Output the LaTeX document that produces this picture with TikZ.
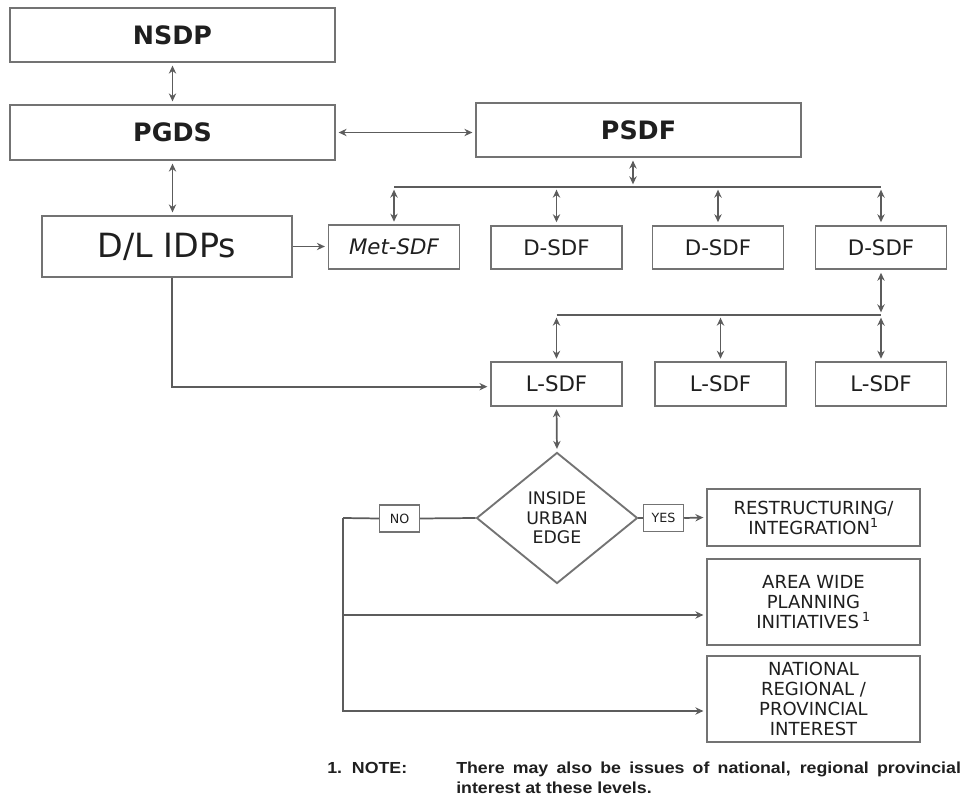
\documentclass[tikz,border=0pt]{standalone}
\usepackage{fontspec}
\usepackage{graphicx}
\setmainfont{DejaVu Sans}
\newfontfamily\notefont{Liberation Sans}
\usetikzlibrary{arrows.meta,shapes.geometric}
\definecolor{boxline}{gray}{0.45}
\definecolor{conline}{gray}{0.36}
\definecolor{txt}{gray}{0.12}
\tikzset{
  box/.style={draw=boxline, line width=1.4pt, fill=white, text=txt, inner sep=0pt, align=center},
  bigbox/.style={box, font=\fontsize{19}{22}\selectfont\bfseries},
  midbox/.style={box, minimum width=98.25pt, minimum height=32.5pt, font=\fontsize{16}{18}\selectfont},
  infobox/.style={box, minimum width=159.75pt, font=\fontsize{13.5}{15}\selectfont},
  tagbox/.style={box, line width=1.1pt, minimum width=30pt, minimum height=20.5pt, font=\fontsize{9.5}{10}\selectfont},
  con/.style={draw=conline, line width=1.3pt},
  dbl/.style={con, {Stealth[length=6pt,width=5.5pt]}-{Stealth[length=6pt,width=5.5pt]}, shorten <=2pt, shorten >=2pt},
  arr/.style={con, -{Stealth[length=6pt,width=5.5pt]}, shorten >=2pt},
  notetext/.style={anchor=base west, inner sep=0pt, text=txt, font=\notefont\bfseries\fontsize{12}{15}\selectfont},
}
\begin{document}
\begin{tikzpicture}[x=0.75pt,y=-0.75pt]
\useasboundingbox (0,0) rectangle (961,798);

% top boxes
\node[bigbox, minimum width=243.75pt, minimum height=40.5pt] (nsdp) at (172.5,35) {NSDP};
\node[bigbox, minimum width=243.75pt, minimum height=41.25pt] (pgds) at (172.5,132.5) {PGDS};
\node[bigbox, minimum width=243.75pt, minimum height=40.5pt] (psdf) at (638.5,130) {PSDF};
\node[box, minimum width=187.5pt, minimum height=45.75pt, font=\fontsize{25}{28}\selectfont] (dlidp) at (167,246.5) {D/L IDPs};

% district level
\node[midbox, font=\fontsize{16}{18}\selectfont\itshape] (met) at (394,247) {Met-SDF};
\node[midbox] (d1) at (556.5,247.5) {D-SDF};
\node[midbox] (d2) at (718,247.5) {D-SDF};
\node[midbox] (d3) at (881,247.5) {D-SDF};

% local level
\node[midbox] (l1) at (556.5,384) {L-SDF};
\node[midbox] (l2) at (720.5,384) {L-SDF};
\node[midbox] (l3) at (881,384) {L-SDF};

% decision
\node[draw=boxline, line width=1.4pt, shape=diamond, aspect=1.23, minimum width=120.75pt, minimum height=98.25pt, inner sep=0pt, text=txt, align=center, font=\fontsize{13}{14.5}\selectfont] (dia) at (557,518) {INSIDE\\URBAN\\EDGE};
\node[tagbox] (yes) at (663.5,518) {YES};
\node[tagbox] (no) at (399.5,518.5) {NO};

% outcome boxes
\node[infobox, minimum height=42.75pt] (restr) at (813.5,517.5) {RESTRUCTURING/\\INTEGRATION\textsuperscript{1}};
\node[infobox, minimum height=64.5pt] (area) at (813.5,602) {AREA WIDE\\PLANNING\\INITIATIVES\,\textsuperscript{1}};
\node[infobox, minimum height=64.5pt] (natl) at (813.5,699) {NATIONAL\\REGIONAL /\\PROVINCIAL\\INTEREST};

% connectors top
\draw[dbl] (nsdp) -- (pgds);
\draw[dbl] (pgds.south) -- (pgds.south |- dlidp.north);
\draw[dbl] (pgds.east) -- (pgds.east -| psdf.west);

% bus from PSDF
\coordinate (busA) at (633,187);
\coordinate (busL) at (met.north |- busA);
\coordinate (busR) at (d3.north |- busA);
\draw[con] (busL) -- (busR);
\draw[dbl] (psdf.south -| busA) -- (busA);
\draw[dbl] (busL) -- (met.north);
\draw[dbl] (d1.north |- busA) -- (d1.north);
\draw[dbl] (d2.north |- busA) -- (d2.north);
\draw[dbl] (busR) -- (d3.north);

% D/L IDPs to Met-SDF
\draw[arr] (dlidp.east) -- (dlidp.east -| met.west);

% bus from D-SDF
\coordinate (busB) at (881,315);
\coordinate (busBL) at (l1.north |- busB);
\draw[con] (busBL) -- (busB);
\draw[dbl] (d3.south) -- (busB);
\draw[dbl] (busBL) -- (l1.north);
\draw[dbl] (l2.north |- busB) -- (l2.north);
\draw[dbl] (busB) -- (l3.north);

% D/L IDPs to L-SDF
\draw[arr] ([xshift=3.75pt]dlidp.south) |- ([yshift=-2pt]l1.west);

% L-SDF to decision
\draw[dbl] (l1.south) -- (dia.north);

% yes / no branches
\draw[con] (dia.east) -- (yes.west);
\draw[arr] (yes.east) -- (restr.west);
\draw[con] (dia.west) -- (no.east);
\coordinate (nc) at (343,518);
\coordinate (aw) at ([yshift=-9.75pt]area.west);
\coordinate (nw) at ([yshift=-9pt]natl.west);
\draw[con] (no.west) -- (nc);
\draw[arr] (nc) |- (nw);
\draw[arr] (nc |- aw) -- (aw);

% note
\node[notetext] (n1) at (327,773) {\scalebox{1.11}[1]{1.\ \ NOTE:}};
\node[notetext] (n2) at (456,773) {\scalebox{1.11}[1]{\makebox[341pt][s]{There may also be issues of national, regional provincial}}};
\node[notetext] (n3) at (456,793) {\scalebox{1.11}[1]{interest at these levels.}};
\end{tikzpicture}
\end{document}
